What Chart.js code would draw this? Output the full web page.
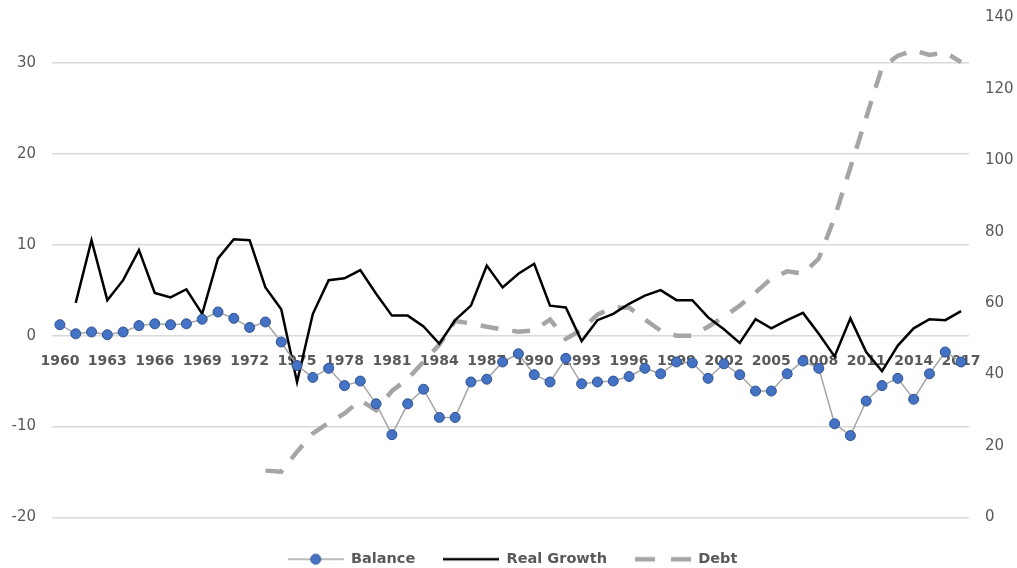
<!DOCTYPE html>
<html>
<head>
<meta charset="utf-8">
<script src="https://cdn.jsdelivr.net/npm/chart.js@4.4.1/dist/chart.umd.min.js"></script>
<style>
  html, body { margin: 0; padding: 0; background: #fff; }
  #wrap { width: 1017px; height: 568px; }
</style>
</head>
<body>
<div id="wrap"><canvas id="chart_lines"></canvas></div>
<script>
/* datos */
const years = [1960, 1961, 1962, 1963, 1964, 1965, 1966, 1967, 1968, 1969,
	1970, 1971, 1972, 1973, 1974, 1975, 1976, 1977, 1978, 1979,
	1980, 1981, 1982, 1983, 1984, 1985, 1986, 1987, 1988, 1989,
	1990, 1991, 1992, 1993, 1994, 1995, 1996, 1997, 1998, 1999,
	2000, 2001, 2002, 2003, 2004, 2005, 2006, 2007, 2008, 2009,
	2010, 2011, 2012, 2013, 2014, 2015, 2016, 2017];

let balance = [1.2, 0.2, 0.4, 0.1, 0.4, 1.1, 1.3, 1.2, 1.3, 1.8,
	2.6, 1.9, 0.9, 1.5, -0.7, -3.3, -4.6, -3.6, -5.5, -5.0,
	-7.5, -10.9, -7.5, -5.9, -9.0, -9.0, -5.1, -4.8, -2.9, -2.0,
	-4.3, -5.1, -2.5, -5.3, -5.1, -5.0, -4.5, -3.6, -4.2, -2.9,
	-3.0, -4.7, -3.1, -4.3, -6.1, -6.1, -4.2, -2.8, -3.6, -9.7,
	-11.0, -7.2, -5.5, -4.7, -7.0, -4.2, -1.8, -2.9];

let real_growth = [null, 3.6, 10.5, 3.9, 6.1, 9.4, 4.7, 4.2, 5.1, 2.4,
	8.5, 10.6, 10.5, 5.3, 2.9, -5.1, 2.4, 6.1, 6.3, 7.2,
	4.6, 2.2, 2.2, 1.0, -0.9, 1.7, 3.3, 7.7, 5.3, 6.8,
	7.9, 3.3, 3.1, -0.6, 1.7, 2.4, 3.5, 4.4, 5.0, 3.9,
	3.9, 2.0, 0.7, -0.8, 1.8, 0.8, 1.7, 2.5, 0.2, -2.3,
	1.9, -1.8, -3.9, -1.1, 0.8, 1.8, 1.7, 2.7];

let debt = [null, null, null, null, null, null, null, null, null, null,
	null, null, null, 13.1, 12.8, 18.4, 23.5, 26.5, 29.1, 32.8,
	30.0, 35.4, 38.8, 43.6, 48.4, 55.0, 54.3, 53.4, 52.6, 52.0,
	52.4, 55.4, 50.0, 52.6, 56.8, 58.8, 58.8, 55.4, 52.3, 50.9,
	50.9, 53.4, 56.2, 59.3, 63.0, 66.9, 68.9, 68.3, 72.5, 84.0,
	98.0, 112.0, 126.0, 129.3, 130.8, 129.5, 130.2, 127.5];

const legend_names = ["Balance", "Real Growth", "Debt"];

const txt_color = "#595959";
const grid_color = "#D9D9D9";

/* iconos de la leyenda */
function makeIcon(draw) {
	const c = document.createElement("canvas");
	c.width = 56;
	c.height = 14;
	const g = c.getContext("2d");
	draw(g);
	return c;
}

const icon_balance = makeIcon(function (g) {
	g.strokeStyle = "#A5A5A5";
	g.lineWidth = 1.5;
	g.beginPath(); g.moveTo(0, 7); g.lineTo(56, 7); g.stroke();
	g.fillStyle = "#4472C4";
	g.strokeStyle = "#2F528F";
	g.lineWidth = 1;
	g.beginPath(); g.arc(28, 7, 5, 0, Math.PI * 2); g.fill(); g.stroke();
});
const icon_growth = makeIcon(function (g) {
	g.strokeStyle = "#000";
	g.lineWidth = 2.5;
	g.beginPath(); g.moveTo(0, 7); g.lineTo(56, 7); g.stroke();
});
const icon_debt = makeIcon(function (g) {
	g.strokeStyle = "#A5A5A5";
	g.lineWidth = 4.5;
	g.setLineDash([20, 16]);
	g.beginPath(); g.moveTo(0, 7); g.lineTo(56, 7); g.stroke();
});
const icons = [icon_balance, icon_growth, icon_debt];

// sin relleno extra arriba por las etiquetas de los ejes
function noTopPad(scale) {
	scale.paddingTop = 0;
}

const ctx = document.getElementById("chart_lines").getContext("2d");

let chart_lines = new Chart(ctx, {
	type: "line",
	data: {
		labels: years,
		datasets: [
			{
				label: legend_names[0],
				data: balance,
				borderColor: "#A5A5A5",
				borderWidth: 1.5,
				pointRadius: 5,
				pointBackgroundColor: "#4472C4",
				pointBorderColor: "#2F528F",
				pointBorderWidth: 1,
				yAxisID: "y",
			},
			{
				label: legend_names[1],
				data: real_growth,
				borderColor: "#000000",
				borderWidth: 2.5,
				pointRadius: 0,
				yAxisID: "y",
			},
			{
				label: legend_names[2],
				data: debt,
				borderColor: "#A5A5A5",
				borderWidth: 4.5,
				borderDash: [18, 14],
				pointRadius: 0,
				yAxisID: "y1",
			}
		],
	},
	options: {
		responsive: true,
		maintainAspectRatio: false,
		animation: false,
		layout: {
			padding: { top: 17.5, left: -4.5, right: -12.6, bottom: -8.5 },
		},
		plugins: {
			tooltip: { enabled: false },
			legend: {
				position: "bottom",
				title: { display: true, text: "", padding: 0, font: { size: 5.5 } },
				labels: {
					usePointStyle: true,
					pointStyleWidth: 56,
					padding: 28,
					color: txt_color,
					font: { family: "DejaVu Sans", size: 14.5, weight: "bold" },
					generateLabels: function (chart) {
						return chart.data.datasets.map(function (ds, i) {
							return {
								text: ds.label,
								pointStyle: icons[i],
								fontColor: txt_color,
								fillStyle: "transparent",
								strokeStyle: "transparent",
								lineWidth: 0,
								hidden: false,
								datasetIndex: i,
							};
						});
					},
				},
			},
		},
		scales: {
			x: {
				type: "category",
				position: { y: 0 },
				offset: true,
				grid: { display: false, drawTicks: true, tickLength: 17 },
				border: { display: false },
				ticks: {
					autoSkip: false,
					maxRotation: 0,
					padding: 0,
					color: txt_color,
					font: { family: "DejaVu Sans", size: 14, weight: "bold" },
					callback: function (val, i) {
						return i % 3 === 0 ? years[i] : "";
					},
				},
			},
			y: {
				position: "left",
				min: -20,
				max: 35,
				border: { display: false },
				grid: { color: grid_color, lineWidth: 1.5, drawTicks: false },
				afterFit: noTopPad,
				ticks: {
					stepSize: 10,
					includeBounds: false,
					padding: 16,
					color: txt_color,
					font: { family: "DejaVu Sans", size: 15 },
				},
			},
			y1: {
				position: "right",
				min: 0,
				max: 140,
				border: { display: false },
				grid: { display: false, drawTicks: false },
				afterFit: noTopPad,
				ticks: {
					stepSize: 20,
					padding: 16,
					color: txt_color,
					font: { family: "DejaVu Sans", size: 15 },
				},
			},
		},
	},
});
</script>
</body>
</html>
